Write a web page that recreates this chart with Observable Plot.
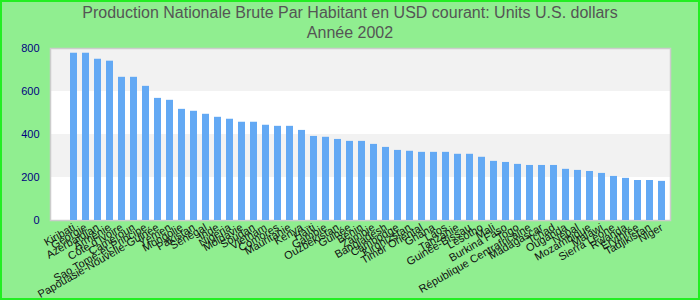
<!DOCTYPE html>
<html>
<head>
<meta charset="utf-8">
<script src="https://cdn.jsdelivr.net/npm/d3@7"></script>
<script src="https://cdn.jsdelivr.net/npm/@observablehq/plot@0.6"></script>
<style>
  html, body { margin: 0; padding: 0; }
  #chart {
    position: relative; width: 700px; height: 300px; overflow: hidden;
    background: #90ee90; box-shadow: inset 0 0 0 2px #22ee22;
    font-family: "Liberation Sans", Arial, sans-serif;
  }
  #title {
    position: absolute; left: 0; top: 3px; width: 700px; text-align: center;
    font-size: 16px; line-height: 20px; color: #555555;
  }
  #plot { position: absolute; left: 0; top: 43px; }
  #plot svg { background: transparent; overflow: visible; }
</style>
</head>
<body>
<div id="chart">
  <div id="title">Production Nationale Brute Par Habitant en USD courant: Units U.S. dollars<br>Année 2002</div>
  <div id="plot"></div>
</div>
<script>
const countries = [
  "Kiribati", "Géorgie", "Azerbaïdjan", "Arménie", "Côte d'Ivoire", "Cameroun",
  "Sao Tomé-et-Principe", "Papouasie-Nouvelle-Guinée", "Yémen", "Mongolie",
  "Pakistan", "Sénégal", "Inde", "Nigeria", "Moldavie", "Soudan", "Vietnam",
  "Comores", "Mauritanie", "Kenya", "Haïti", "Gambie", "Ouzbékistan", "Guinée",
  "Bénin", "Zambie", "Bangladesh", "Cambodge", "Kirghizstan", "Timor Oriental",
  "Ghana", "Laos", "Tanzanie", "Guinée-Bissau", "Lesotho", "Mali", "Burkina Faso",
  "Togo", "République Centrafricaine", "Madagascar", "Tchad", "Ouganda", "Népal",
  "Mozambique", "Malawi", "Sierra Leone", "Rwanda", "Érythrée", "Tadjikistan", "Niger"
];
const values = [
  778, 778, 750, 741, 666, 666, 624, 568, 559, 517,
  508, 494, 480, 471, 457, 457, 443, 438, 438, 419,
  391, 387, 377, 368, 368, 354, 340, 326, 322, 317,
  317, 317, 308, 308, 294, 275, 270, 261, 256, 256,
  256, 238, 233, 228, 219, 205, 196, 186, 186, 182
];
const yTicks = [0, 200, 400, 600, 800];
const grayBands = [[200, 400], [600, 800]];

const data = countries.map((c, i) => ({country: c, value: values[i]}));

const chart = Plot.plot({
  width: 700,
  height: 257,
  marginTop: 5,
  marginBottom: 80,
  marginLeft: 50,
  marginRight: 30,
  style: {fontFamily: '"Liberation Sans", Arial, sans-serif', background: "transparent"},
  x: {domain: countries, type: "band", paddingInner: 0.435, paddingOuter: 0.2, align: 0.8, label: null},
  y: {domain: [0, 800], label: null},
  marks: [
    Plot.frame({fill: "white"}),
    Plot.rect(grayBands, {y1: d => d[0], y2: d => d[1], fill: "#f2f2f2"}),
    Plot.frame({stroke: "#cccccc", strokeWidth: 1.5}),
    Plot.barY(data, {x: "country", y: "value", fill: "#63a9f4"}),
    Plot.axisY({ticks: yTicks, tickSize: 0, tickPadding: 11, fontSize: 11, color: "#000080", label: null}),
    Plot.axisX({tickSize: 0, tickRotate: -30, tickPadding: 6, fontSize: 11, fill: "#111111", label: null})
  ]
});
document.getElementById("plot").appendChild(chart);
</script>
</body>
</html>
